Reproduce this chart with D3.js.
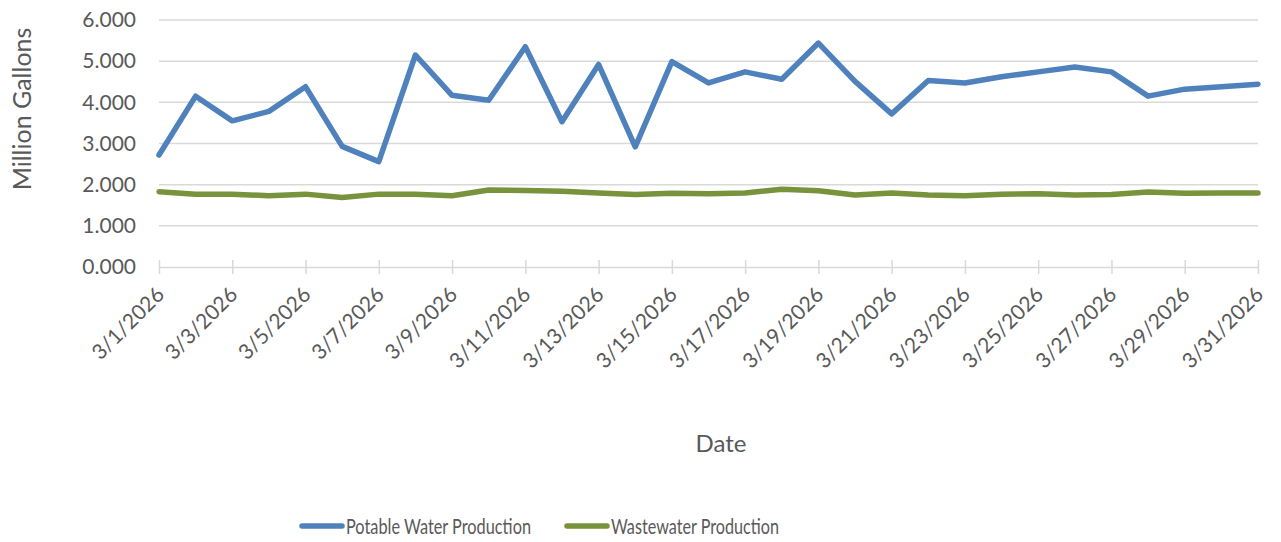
<!DOCTYPE html>
<html>
<head>
<meta charset="utf-8">
<script src="https://cdn.jsdelivr.net/npm/d3@7"></script>
<style>
  body { margin: 0; background: #fff; }
  svg { display: block; font-family: Lato, "Open Sans", sans-serif; }
  .lbl { fill: #595959; }
</style>
</head>
<body>
<div id="chart"></div>
<script>
// daily values, March 2026
var days = d3.range(1, 32);
var potable = [2.72, 4.15, 3.55, 3.78, 4.38, 2.93, 2.56, 5.15, 4.17, 4.05, 5.35,
               3.53, 4.92, 2.92, 4.99, 4.47, 4.74, 4.56, 5.44, 4.51, 3.72,
               4.53, 4.47, 4.62, 4.74, 4.86, 4.74, 4.15, 4.32, 4.38, 4.44];
var wastewater = [1.83, 1.77, 1.77, 1.73, 1.77, 1.69, 1.77, 1.77, 1.73, 1.87, 1.86,
                  1.84, 1.80, 1.76, 1.79, 1.78, 1.80, 1.89, 1.85, 1.75, 1.80,
                  1.75, 1.73, 1.77, 1.78, 1.75, 1.76, 1.82, 1.79, 1.80, 1.80];
var yTicks = [0, 1, 2, 3, 4, 5, 6];
var seriesNames = ["Potable Water Production", "Wastewater Production"];
var seriesColors = ["#4f81bd", "#77933c"];

var width = 1281, height = 542;
var margin = {top: 20, right: 23, bottom: 275, left: 159};
var innerW = width - margin.left - margin.right;
var innerH = height - margin.top - margin.bottom;

var svg = d3.select("#chart").append("svg")
	.attr("width", width)
	.attr("height", height);

var g = svg.append("g")
	.attr("transform", "translate(" + margin.left + "," + margin.top + ")");

var x = d3.scaleTime()
	.domain([new Date(2026, 2, 1), new Date(2026, 2, 31)])
	.range([0, innerW]);
var y = d3.scaleLinear().domain([0, 6]).range([innerH, 0]);

var dates = days.map(function(d) { return new Date(2026, 2, d); });
var fmt = function(d) { return (d.getMonth() + 1) + "/" + d.getDate() + "/" + d.getFullYear(); };

//gridlines
g.append("g").selectAll("line")
	.data(yTicks.filter(function(d) { return d > 0; }))
	.enter().append("line")
	.attr("x1", 0).attr("x2", innerW)
	.attr("y1", function(d) { return y(d); })
	.attr("y2", function(d) { return y(d); })
	.attr("stroke", "#d9d9d9")
	.attr("stroke-width", 1.5);

//y axis labels
var yAxis = d3.axisLeft(y).tickValues(yTicks).tickSize(0).tickPadding(23)
	.tickFormat(d3.format(".3f"));
g.append("g").call(yAxis)
	.call(function(s) { s.select(".domain").remove(); })
	.selectAll("text")
	.attr("class", "lbl")
	.style("font-size", "21px")
	.style("font-family", "Lato, 'Open Sans', sans-serif");

//x axis
var tickDates = dates.filter(function(d, i) { return i % 2 === 0; });
var xAxis = d3.axisBottom(x).tickValues(tickDates).tickSizeInner(7).tickSizeOuter(0)
	.tickFormat(fmt);
var xg = g.append("g")
	.attr("transform", "translate(0," + innerH + ")")
	.call(xAxis);
xg.select(".domain").attr("stroke", "#d9d9d9").attr("stroke-width", 1.5);
xg.selectAll(".tick line")
	.attr("stroke", "#d9d9d9").attr("stroke-width", 1.5)
	.attr("y1", -7).attr("y2", 7);
xg.selectAll(".tick text")
	.attr("class", "lbl")
	.style("font-size", "21px")
	.style("font-family", "Lato, 'Open Sans', sans-serif")
	.attr("text-anchor", "end")
	.attr("dy", null)
	.attr("y", 0)
	.attr("transform", "translate(6,29) rotate(-45)");

//lines
var line = d3.line()
	.x(function(d, i) { return x(dates[i]); })
	.y(function(d) { return y(d); });

[potable, wastewater].forEach(function(s, i) {
	g.append("path")
		.datum(s)
		.attr("fill", "none")
		.attr("stroke", seriesColors[i])
		.attr("stroke-width", 5.5)
		.attr("stroke-linejoin", "round")
		.attr("stroke-linecap", "round")
		.attr("d", line);
});

//axis titles
svg.append("text")
	.attr("class", "lbl")
	.attr("transform", "translate(31,109) rotate(-90)")
	.attr("text-anchor", "middle")
	.style("font-size", "25px")
	.text("Million Gallons");

svg.append("text")
	.attr("class", "lbl")
	.attr("x", 721).attr("y", 452)
	.attr("text-anchor", "middle")
	.style("font-size", "24px")
	.text("Date");

//legend
var legendX = [302, 567];
var legendLen = [185, 168];
var legend = svg.append("g").selectAll("g")
	.data(seriesNames)
	.enter().append("g")
	.attr("transform", function(d, i) { return "translate(" + legendX[i] + ",526)"; });
legend.append("line")
	.attr("x1", 0).attr("x2", 40)
	.attr("stroke", function(d, i) { return seriesColors[i]; })
	.attr("stroke-width", 5.5)
	.attr("stroke-linecap", "round");
legend.append("text")
	.attr("class", "lbl")
	.attr("x", 44).attr("y", 8)
	.attr("textLength", function(d, i) { return legendLen[i]; })
	.attr("lengthAdjust", "spacingAndGlyphs")
	.style("font-size", "22px")
	.text(function(d) { return d; });
</script>
</body>
</html>
